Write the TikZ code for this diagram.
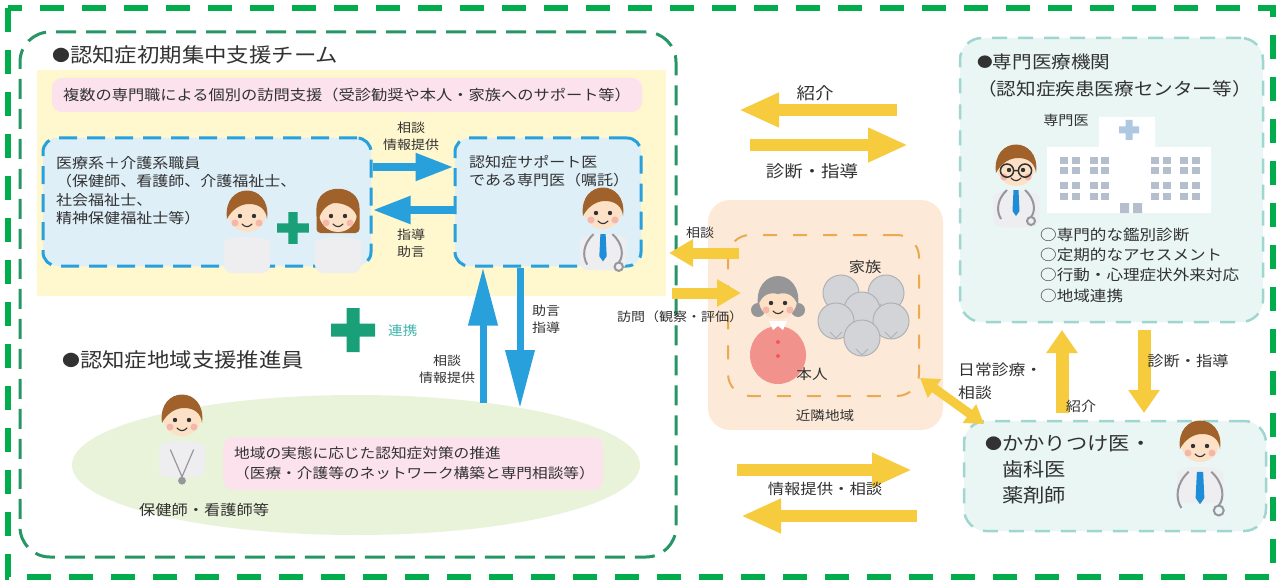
\documentclass[tikz,border=0pt]{standalone}
\usepackage{fontspec}
\setmainfont{Noto Sans CJK JP}[FakeStretch=1.12]
\usetikzlibrary{arrows.meta,shapes.geometric}
\definecolor{ink}{RGB}{50,50,50}
\definecolor{framegreen}{RGB}{0,172,75}
\definecolor{teamline}{RGB}{38,150,100}
\definecolor{bandyellow}{RGB}{255,247,205}
\definecolor{notepink}{RGB}{251,226,236}
\definecolor{lightblue}{RGB}{222,239,248}
\definecolor{arrowblue}{RGB}{40,160,220}
\definecolor{arrowyellow}{RGB}{246,204,62}
\definecolor{crossgreen}{RGB}{25,160,120}
\definecolor{linkteal}{RGB}{60,180,170}
\definecolor{fieldgreen}{RGB}{233,243,218}
\definecolor{peach}{RGB}{253,233,216}
\definecolor{peachline}{RGB}{236,170,80}
\definecolor{mint}{RGB}{233,246,243}
\definecolor{mintline}{RGB}{160,214,208}
\definecolor{skin}{RGB}{253,225,198}
\definecolor{cheek}{RGB}{246,182,170}
\definecolor{hairbrown}{RGB}{160,98,42}
\definecolor{hairgrey}{RGB}{150,150,152}
\definecolor{coat}{RGB}{238,238,240}
\definecolor{tieblue}{RGB}{30,140,215}
\definecolor{steth}{RGB}{150,150,156}
\definecolor{dress}{RGB}{242,146,140}
\definecolor{bubble}{RGB}{210,212,216}
\definecolor{bubbleline}{RGB}{175,177,182}
\definecolor{window}{RGB}{180,190,204}
\definecolor{crossblue}{RGB}{175,200,225}
\newcommand{\jfs}[2]{\fontsize{#1}{#2}\selectfont}
\newcommand{\bmark}{\raisebox{.06em}{\scalebox{.8}{●}}}
\tikzset{
  txt/.style={text=ink,inner sep=0pt},
  lab/.style={txt,align=center,font=\jfs{12.5}{17}},
  frame/.style={draw=framegreen,line width=6pt,dash pattern=on 24pt off 18pt},
  teambox/.style={draw=teamline,line width=3pt,dash pattern=on 20pt off 10pt,rounded corners=30pt},
  band/.style={fill=bandyellow,inner sep=0pt},
  note/.style={txt,fill=notepink,rounded corners=10pt},
  staffbox/.style={draw=arrowblue,fill=lightblue,line width=3pt,dash pattern=on 18pt off 10pt,rounded corners=14pt},
  clinicbox/.style={draw=mintline,fill=mint,line width=2.5pt,dash pattern=on 15pt off 11pt,rounded corners=22pt},
  areabox/.style={fill=peach,rounded corners=22pt},
  homebox/.style={draw=peachline,line width=2pt,dash pattern=on 14pt off 16pt,rounded corners=22pt},
  yarrow/.style={draw=arrowyellow,line width=12pt,-{Triangle[width=32pt,length=40pt]}},
  ysmall/.style={draw=arrowyellow,line width=11pt,-{Triangle[width=26pt,length=24pt]}},
  yvert/.style={draw=arrowyellow,line width=13pt,-{Triangle[width=30pt,length=23pt]}},
  ytwin/.style={draw=arrowyellow,line width=9pt,{Triangle[width=22pt,length=18pt]}-{Triangle[width=22pt,length=18pt]}},
  barrow/.style={draw=arrowblue,line width=8pt,-{Triangle[width=26pt,length=38pt]}},
  bvert/.style={draw=arrowblue,line width=7pt,-{Triangle[width=28pt,length=58pt]}},
  face/.pic={
    \fill[skin] (0,0) circle (19);
    \fill[ink] (-7,3) circle (2.2) (7,3) circle (2.2);
    \fill[cheek] (-12,10) circle (3.5) (12,10) circle (3.5);
    \draw[ink,line width=1.1pt,line cap=round] (-5,11) .. controls (-2,14.5) and (2,14.5) .. (5,11);
  },
  torso/.pic={
    \fill[coat,rounded corners=8pt] (-23,60) -- (-23,38) .. controls (-23,22) and (23,22) .. (23,38) -- (23,60) -- cycle;
  },
  staff/.pic={
    \pic {torso};
    \pic {face};
    \fill[hairbrown] (-20,6) .. controls (-25,-32) and (25,-32) .. (20,6) .. controls (19,-4) and (12,-9) .. (2,-9) .. controls (-8,-9) and (-16,-2) .. cycle;
  },
  promoter/.pic={
    \pic {staff};
    \draw[steth,line width=1.2pt] (-9,25) -- (0,46) -- (9,25);
    \fill[steth] (0,49) circle (3);
  },
  carer/.pic={
    \pic {torso};
    \fill[hairbrown,rounded corners=4pt] (-21.5,20) -- (-21.5,0) .. controls (-22,-31) and (22,-31) .. (21.5,0) -- (21.5,20) -- cycle;
    \pic {face};
    \fill[hairbrown] (-20,8) .. controls (-26,-32) and (26,-32) .. (20,8) .. controls (18,-6) and (6,-10) .. (-4,-10) .. controls (-12,-8) and (-17,-2) .. cycle;
  },
  doctor/.pic={
    \pic {staff};
    \fill[tieblue] (-2.5,23) -- (2.5,23) -- (3.5,44) -- (0,49) -- (-3.5,44) -- cycle;
    \draw[steth,line width=2pt] (-9,23) .. controls (-19,32) and (-20,44) .. (-15,52) (9,23) .. controls (19,32) and (20,44) .. (15,50);
    \draw[steth,line width=2pt] (15,54) circle (4);
  },
  specialistdoc/.pic={
    \pic {doctor};
    \draw[ink,line width=1.5pt] (-7.5,3) circle (5.5) (7.5,3) circle (5.5) (-2,3) -- (2,3);
  },
  elder/.pic={
    \fill[dress] (0,55) circle [x radius=28,y radius=29];
    \fill[white] (-9,21) -- (9,21) -- (5,30) -- (0,26) -- (-5,30) -- cycle;
    \fill[hairgrey] (-20,10) circle (7) (20,10) circle (7);
    \pic {face};
    \fill[hairgrey] (-20,6) .. controls (-25,-34) and (25,-34) .. (20,6) .. controls (16,-6) and (8,-8) .. (0,-6) .. controls (-8,-8) and (-16,-6) .. cycle;
    \fill[dress!60!red] (0,42) circle (2) (0,56) circle (2);
  },
  plus/.pic={
    \fill[crossgreen] (-22,-6.5) rectangle (22,6.5) (-6.5,-22) rectangle (6.5,22);
  }
}

\begin{document}
\begin{tikzpicture}[x=1pt,y=-1pt]
  \useasboundingbox (0,0) rectangle (1280,583);
  \fill[white] (0,0) rectangle (1280,583);
  \draw[frame] (8,8) rectangle (1273,577);

  % initial support team
  \node[band,minimum width=629pt,minimum height=226pt] (band) at (351.5,183) {};
  \node[teambox,minimum width=656pt,minimum height=525pt] (team) at (348,294.5) {};
  \node[txt,anchor=west,font=\jfs{20}{24}] (teamtitle) at (52,55) {\bmark 認知症初期集中支援チーム};
  \node[note,minimum width=590pt,minimum height=34pt,font=\jfs{14.5}{17}] (visit) at (347,95) {複数の専門職による個別の訪問支援（受診勧奨や本人・家族へのサポート等）};
  \node[staffbox,minimum width=328pt,minimum height=128pt] (staff) at (207,202) {};
  \node[txt,anchor=north west,align=left,font=\jfs{14.3}{18.5}] (stafftext) at (56,156) {医療系＋介護系職員\\（保健師、看護師、介護福祉士、\\社会福祉士、\\精神保健福祉士等）};
  \node[staffbox,minimum width=186pt,minimum height=128pt] (support) at (548,202) {};
  \node[txt,anchor=north west,align=left,font=\jfs{14.3}{18.5}] (supporttext) at (469,155) {認知症サポート医\\である専門医（嘱託）};
  \pic at (247,213) {staff};
  \pic at (338,213) {carer};
  \pic[scale=.72] at (293,228) {plus};
  \pic[scale=1.05] at (603,210) {doctor};
  \draw[barrow] ([yshift=35pt]staff.east) -- ([yshift=35pt]support.west);
  \draw[barrow] ([yshift=-8pt]support.west) -- ([yshift=-8pt]staff.east);
  \node[lab] (ask1) at (411,136.5) {相談\\情報提供};
  \node[lab] (guide1) at (411,243.5) {指導\\助言};

  % community support promoter
  \node[ellipse,fill=fieldgreen,minimum width=568pt,minimum height=140pt] (field) at (356,465) {};
  \coordinate (askfoot) at (483,403);
  \coordinate (guidefoot) at (520,408);
  \draw[bvert] (askfoot) -- (askfoot |- support.south);
  \draw[bvert] (guidefoot |- support.south) -- (guidefoot);
  \node[lab] (guide2) at (546,319) {助言\\指導};
  \node[lab] (ask2) at (447,369) {相談\\情報提供};
  \pic at (353,330) {plus};
  \node[txt,anchor=west,text=linkteal,font=\jfs{13}{16}] (link) at (388,331) {連携};
  \node[txt,anchor=west,font=\jfs{20}{24}] (promotertitle) at (62,360) {\bmark 認知症地域支援推進員};
  \pic[scale=1.3] at (182,417) {promoter};
  \node[note,minimum width=380pt,minimum height=53pt] (measure) at (413,463.5) {};
  \node[txt,anchor=north west,align=left,font=\jfs{14}{20}] (measuretext) at (234,446) {地域の実態に応じた認知症対策の推進\\（医療・介護等のネットワーク構築と専門相談等）};
  \node[txt,anchor=west,font=\jfs{14.5}{17}] (nurse) at (139,510) {保健師・看護師等};

  % neighbourhood
  \node[areabox,minimum width=235pt,minimum height=230pt] (nearby) at (825.5,315) {};
  \node[homebox,minimum width=191pt,minimum height=161pt] (home) at (823.5,315.5) {};
  \foreach \x/\y in {841/293,886/293,862/310,836/321,891/321,862/338}{
    \filldraw[fill=bubble,draw=bubbleline,line width=1pt] (\x,\y) circle (18);
    \draw[bubbleline,line width=1pt] (\x-6,\y+11) -- (\x,\y+17) -- (\x+6,\y+11);}
  \pic at (778,300) {elder};
  \node[txt,font=\jfs{14.5}{17}] (family) at (865,267) {家族};
  \node[txt,font=\jfs{14}{17}] (self) at (812,374) {本人};
  \node[txt,font=\jfs{13}{16}] (nearbytext) at (825,416) {近隣地域};
  \coordinate (consultA) at (739,253);
  \coordinate (consultB) at (669,253);
  \coordinate (visitA) at (672,293);
  \coordinate (visitB) at (741,293);
  \draw[ysmall] (consultA) -- (consultB);
  \draw[ysmall] (visitA) -- (visitB);
  \node[lab] (consult) at (700,233) {相談};
  \node[lab] (visitlab) at (680,317) {訪問（観察・評価）};

  % specialist medical institution
  \node[clinicbox,minimum width=303pt,minimum height=284pt] (hospital) at (1111.5,180) {};
  \fill[white] (1047,147) rectangle (1211,213) (1099,117) rectangle (1155,147);
  \fill[crossblue] (1119,126.5) rectangle (1139,133.5) (1125.5,120) rectangle (1132.5,140);
  \foreach \x in {1060,1072,1090,1101,1151,1163,1180,1192}
    \foreach \y in {157,167,182,193}
      \fill[window] (\x,\y) rectangle ++(8,7);
  \fill[window] (1120,203) rectangle ++(9,10) (1133,203) rectangle ++(9,10);
  \node[txt,anchor=north west,align=left,font=\jfs{17.5}{27}] (hospitaltitle) at (977,54) {\bmark 専門医療機関\\（認知症疾患医療センター等）};
  \node[txt,font=\jfs{13.5}{16}] (specialist) at (1066,120) {専門医};
  \pic[scale=1.2] at (1016,167) {specialistdoc};
  \node[txt,anchor=north west,align=left,font=\jfs{14.8}{20.3}] (services) at (1040,227.5) {○専門的な鑑別診断\\○定期的なアセスメント\\○行動・心理症状外来対応\\○地域連携};
  \coordinate (refR) at (897,110);
  \coordinate (refL) at (739,110);
  \coordinate (diagL) at (750,145);
  \coordinate (diagR) at (908,145);
  \draw[yarrow] (refR) -- (refL);
  \draw[yarrow] (diagL) -- (diagR);
  \node[txt,font=\jfs{16.5}{20}] (referral) at (815,93) {紹介};
  \node[txt,font=\jfs{16.5}{20}] (diagnosis) at (812,171) {診断・指導};

  % family doctor
  \node[clinicbox,minimum width=302pt,minimum height=110pt] (gp) at (1115,476) {};
  \node[txt,anchor=north west,align=left,font=\jfs{19}{26}] (gptext) at (985,435.5) {\bmark かかりつけ医・\\\phantom{\bmark}歯科医\\\phantom{\bmark}薬剤師};
  \pic[scale=1.25] at (1200,443) {doctor};
  \coordinate (gpup) at (1062,413);
  \coordinate (hospup) at (1062,330);
  \coordinate (hospdown) at (1144,330);
  \coordinate (gpdown) at (1144,413);
  \draw[yvert] (gpup) -- (hospup);
  \draw[yvert] (hospdown) -- (gpdown);
  \node[txt,font=\jfs{13.5}{16}] (referral2) at (1081,406) {紹介};
  \node[txt,font=\jfs{14.5}{17}] (diagnosis2) at (1188,361) {診断・指導};
  \node[txt,anchor=north west,align=left,font=\jfs{15}{23}] (daily) at (958,363) {日常診療・\\相談};
  \coordinate (twinA) at (920,378);
  \coordinate (twinB) at (984,424);
  \draw[ytwin] (twinA) -- (twinB);
  \coordinate (infoL) at (737,470);
  \coordinate (infoR) at (912,470);
  \coordinate (backR) at (917,516);
  \coordinate (backL) at (741,516);
  \draw[yarrow] (infoL) -- (infoR);
  \draw[yarrow] (backR) -- (backL);
  \node[txt,font=\jfs{14.6}{17}] (info) at (825,489) {情報提供・相談};
\end{tikzpicture}
\end{document}
